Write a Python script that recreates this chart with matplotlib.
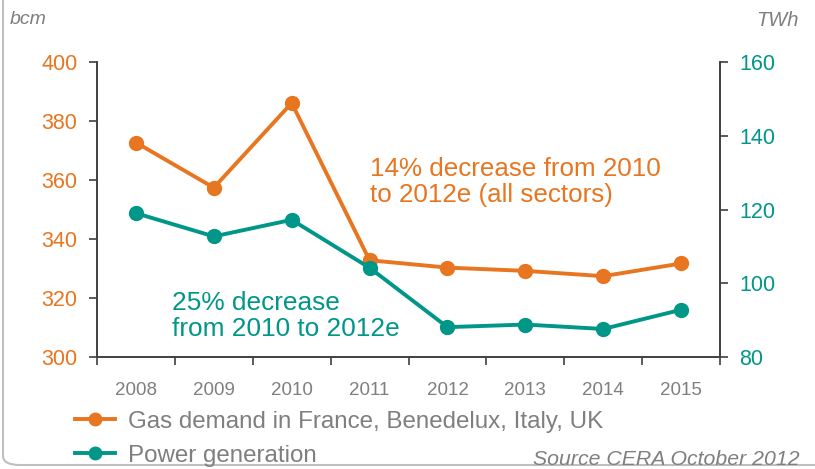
import matplotlib.pyplot as plt
from matplotlib.patches import FancyBboxPatch
from matplotlib.lines import Line2D

plt.rcParams['font.family'] = ['Liberation Sans', 'DejaVu Sans']

years = ['2008', '2009', '2010', '2011', '2012', '2013', '2014', '2015']
gas_bcm = [372.7, 357.4, 386.1, 332.8, 330.3, 329.2, 327.4, 331.7]
power_twh = [119.0, 112.7, 117.2, 104.2, 88.1, 88.8, 87.6, 92.8]

left_ticks = [300, 320, 340, 360, 380, 400]
right_ticks = [80, 100, 120, 140, 160]

orange = '#E8751F'
teal = '#009688'
grey = '#7F7F7F'
spine_c = '#404040'

fig = plt.figure(figsize=(8.15, 4.69), dpi=100)
ax = fig.add_axes([97 / 815, 1 - 357 / 469, 623 / 815, 295 / 469])
ax2 = ax.twinx()

x = list(range(len(years)))
ax.plot(x, gas_bcm, color=orange, lw=2.8, marker='o', ms=10, zorder=3)
ax2.plot(x, power_twh, color=teal, lw=2.8, marker='o', ms=10, zorder=3)

ax.set_xlim(-0.5, len(years) - 0.5)
ax.set_ylim(300, 400)
ax2.set_ylim(80, 160)
ax.set_yticks(left_ticks)
ax2.set_yticks(right_ticks)

ax.set_xticks([i - 0.5 for i in range(len(years) + 1)])
ax.set_xticklabels([])
ax.set_xticks(x, minor=True)
ax.set_xticklabels(years, minor=True)
ax.tick_params(axis='x', which='major', length=6, width=1.2, color=spine_c)
ax.tick_params(axis='x', which='minor', length=0, pad=18, labelsize=13.5, labelcolor=grey)
ax.tick_params(axis='y', length=6, width=1.2, color=spine_c, labelsize=15.5, labelcolor=orange, pad=8)
ax2.tick_params(axis='y', length=6, width=1.2, color=spine_c, labelsize=15.5, labelcolor=teal, pad=8)

for a in (ax, ax2):
    a.spines['top'].set_visible(False)
    for s in ('left', 'right', 'bottom'):
        a.spines[s].set_color(spine_c)
        a.spines[s].set_linewidth(1.2)

ax.text(0.438, 0.592, '14% decrease from 2010\nto 2012e (all sectors)', transform=ax.transAxes,
        color=orange, fontsize=18.7, va='center', ha='left', linespacing=1.1)
ax.text(0.12, 0.139, '25% decrease\nfrom 2010 to 2012e', transform=ax.transAxes,
        color=teal, fontsize=18.9, va='center', ha='left', linespacing=1.1)

fig.text(10 / 815, 1 - 20 / 469, 'bcm', color=grey, fontsize=14, style='italic', va='center', ha='left')
fig.text(799 / 815, 1 - 20 / 469, 'TWh', color=grey, fontsize=14.5, style='italic', va='center', ha='right')
fig.text(800 / 815, 1 - 459 / 469, 'Source CERA October 2012', color=grey, fontsize=15.3,
         style='italic', va='center', ha='right')

handles = [Line2D([], [], color=orange, lw=2.8, marker='o', ms=9),
           Line2D([], [], color=teal, lw=2.8, marker='o', ms=9)]
labels = ['Gas demand in France, Benedelux, Italy, UK', 'Power generation']
fig.legend(handles, labels, loc='upper left', bbox_to_anchor=(65 / 815, 1 - 401 / 469),
           frameon=False, fontsize=17.4, labelcolor=grey, handlelength=1.65,
           handletextpad=0.55, labelspacing=0.5, borderaxespad=0)

border = FancyBboxPatch((3 / 815, 4 / 469), 1.2, 1.2, transform=fig.transFigure,
                        boxstyle='round,pad=0,rounding_size=0.02', fill=False,
                        edgecolor='#BFBFBF', lw=1.5, clip_on=False)
fig.patches.append(border)

fig.savefig('out.png', dpi=100)
